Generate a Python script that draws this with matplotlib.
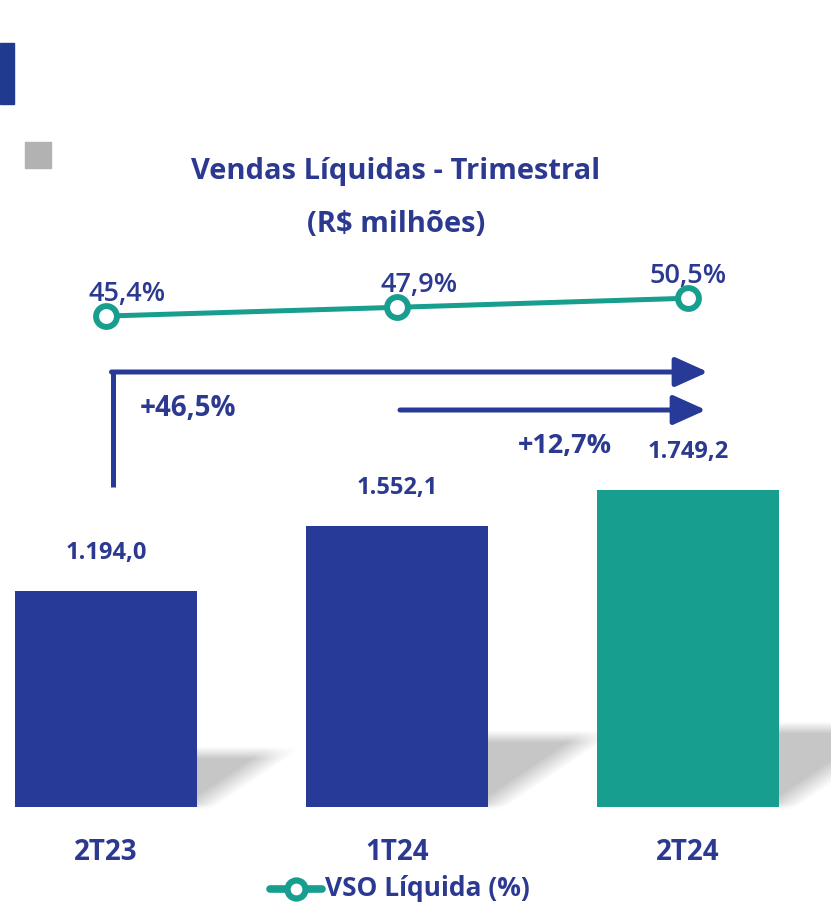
import matplotlib.pyplot as plt
import numpy as np

# data
quarters = ['2T23', '1T24', '2T24']
vendas = [1194.0, 1552.1, 1749.2]
vendas_labels = ['1.194,0', '1.552,1', '1.749,2']
vso = [45.4, 47.9, 50.5]
vso_labels = ['45,4%', '47,9%', '50,5%']
growth_labels = ['+46,5%', '+12,7%']

BLUE = '#283a97'
TEAL = '#179e8f'
TXT = '#2b3990'
plt.rcParams['font.family'] = ['Open Sans', 'DejaVu Sans']

W, H = 831, 909
fig = plt.figure(figsize=(W / 100, H / 100), dpi=100)

# overlay in pixel coords (shadows, decorations, arrows, legend)
ov = fig.add_axes([0, 0, 1, 1])
ov.set_xlim(0, W)
ov.set_ylim(H, 0)
ov.axis('off')

# main axes for bars
ax = fig.add_axes([0, 0, 1, 1])
ax.patch.set_alpha(0)
ax.set_xlim(-0.364, 2.491)
ax.set_ylim(-563.5, 4458)
ax.axis('off')

x = np.arange(len(quarters))
bw = 0.625
bars = ax.bar(x, vendas, width=bw, color=[BLUE, BLUE, TEAL], zorder=3)

# soft shadows to the right of each bar
fig.canvas.draw()
gx, gy = np.meshgrid(np.arange(W) + 0.5, np.arange(H) + 0.5)
alpha = np.zeros((H, W))
def smooth(d, s):
    return np.clip(0.5 + d / (2 * s), 0, 1)
for b in bars:
    (x0, y0), (x1, y1) = ax.transData.transform([(b.get_x(), 0), (b.get_x() + b.get_width(), b.get_height())])
    xr = x1
    yb = H - y0
    hgt = abs(y1 - y0)
    top = yb - 0.25 * hgt
    L = 0.37 * hgt
    # slanted edge from (xr+L, top) to (xr, yb)
    nx, ny = (yb - top), L
    nrm = np.hypot(nx, ny)
    d_slant = -((gx - (xr + L)) * nx + (gy - top) * ny) / nrm
    a = smooth(gy - top, 6) * smooth(d_slant, 10) * smooth(yb - gy, 3) * (gx > xr)
    alpha = np.maximum(alpha, a)
img = np.zeros((H, W, 4))
img[..., :3] = 0.78
img[..., 3] = alpha
ov.imshow(img, extent=(0, W, H, 0), interpolation='bilinear', zorder=1)

# decorative squares
ov.add_patch(plt.Rectangle((0, 43), 14, 61, color='#1f3a8f', zorder=2))
ov.add_patch(plt.Rectangle((25, 142), 26, 26, color='#b2b2b2', zorder=2))

# title
ov.text(396, 171, 'Vendas Líquidas - Trimestral', ha='center', va='center',
        fontsize=21, fontweight='bold', color=TXT)
ov.text(396, 225, '(R$ milhões)', ha='center', va='center',
        fontsize=21, fontweight='bold', color=TXT)

# value labels and categories
for i, v in enumerate(vendas):
    ax.annotate(vendas_labels[i], (x[i], v), xytext=(0, 38), textcoords='offset pixels',
                ha='center', va='center', fontsize=17, fontweight='bold', color=TXT)
    ax.annotate(quarters[i], (x[i], 0), xytext=(0, -46), textcoords='offset pixels',
                ha='center', va='center', fontsize=20, fontweight='bold', color=TXT)

# VSO line
ax2 = ax.twinx()
ax2.set_ylim(-124, 135.7)
ax2.axis('off')
ax2.plot(x, vso, color=TEAL, lw=3.6, marker='o', ms=15, mfc='white', mec=TEAL, mew=4.3,
         zorder=4)
offs = [21, 22, 0]
for i, v in enumerate(vso):
    ax2.annotate(vso_labels[i], (x[i], v), xytext=(offs[i], 22), textcoords='offset pixels',
                 ha='center', va='center', fontsize=19.5, fontweight='semibold', color=TXT)

# growth arrows
aprops = dict(arrowstyle='-|>,head_length=1.0,head_width=0.45', mutation_scale=20,
              lw=3.6, color=BLUE, shrinkA=0, shrinkB=0)
ov.plot([113, 113], [487, 372], color=BLUE, lw=3.6, solid_capstyle='butt')
ov.annotate('', xy=(708, 372), xytext=(111.5, 372), arrowprops=aprops)
ov.annotate('', xy=(706, 410), xytext=(400, 410), arrowprops=aprops)
ov.text(188, 408, growth_labels[0], ha='center', va='center', fontsize=20,
        fontweight='bold', color=TXT)
ov.text(565, 446, growth_labels[1], ha='center', va='center', fontsize=19.5,
        fontweight='bold', color=TXT)

# legend
ov.plot([270, 322], [889, 889], color=TEAL, lw=5.5, solid_capstyle='round')
ov.plot([296], [889], marker='o', ms=13, mfc='white', mec=TEAL, mew=4.5)
ov.text(325, 889, 'VSO Líquida (%)', ha='left', va='center', fontsize=19,
        fontweight='bold', color=TXT)

fig.savefig('out.png', dpi=100)
